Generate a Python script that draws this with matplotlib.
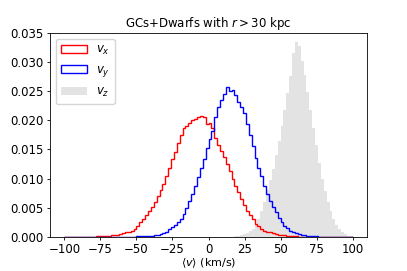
import numpy as np
import matplotlib
matplotlib.use('Agg')
import matplotlib.pyplot as plt

# 2 km/s bins from -100 to 100
BIN_EDGES = np.arange(-100, 101, 2)
BIN_CENTERS = BIN_EDGES[:-1] + 1

# normalised counts per bin (centres -99 ... 99)
vx_hist = [0] * 10 + [
    0.00005, 0.0001, 0.0001, 0.00015, 0.0002, 0.0002, 0.0003, 0.0003, 0.0004, 0.0005,   # -79 .. -61
    0.0006, 0.0008, 0.0009, 0.0011, 0.0013, 0.0019, 0.0026, 0.0031, 0.0037, 0.0045,     # -59 .. -41
    0.0051, 0.0060, 0.0070, 0.0080, 0.0091, 0.0104, 0.0118, 0.0133, 0.0146, 0.0161,     # -39 .. -21
    0.0175, 0.0187, 0.0190, 0.0195, 0.0200, 0.0203, 0.0205, 0.0208, 0.0206, 0.0194,     # -19 .. -1
    0.0196, 0.0186, 0.0170, 0.0158, 0.0147, 0.0137, 0.0125, 0.0113, 0.0099, 0.0088,     # 1 .. 19
    0.0077, 0.0065, 0.0055, 0.0045, 0.0037, 0.0030, 0.0023, 0.0018, 0.0013, 0.0011,     # 21 .. 39
    0.0009, 0.0008, 0.0006, 0.0005, 0.0004, 0.0003, 0.0003, 0.0002, 0.0002, 0.0001,     # 41 .. 59
    0.0001, 0.00005, 0.00005] + [0] * 17

vy_hist = [0] * 20 + [
    0.00002, 0.00003, 0.00005, 0.00005, 0.00008, 0.0001, 0.0001, 0.0001, 0.00015, 0.0002,  # -59 .. -41
    0.0002, 0.0003, 0.0003, 0.0005, 0.0007, 0.0009, 0.0013, 0.0017, 0.0020, 0.0025,        # -39 .. -21
    0.0031, 0.0039, 0.0049, 0.0061, 0.0074, 0.0088, 0.0103, 0.0119, 0.0134, 0.0153,        # -19 .. -1
    0.0168, 0.0182, 0.0205, 0.0222, 0.0234, 0.0245, 0.0257, 0.0250, 0.0252, 0.0243,        # 1 .. 19
    0.0231, 0.0222, 0.0212, 0.0193, 0.0174, 0.0156, 0.0136, 0.0118, 0.0104, 0.0088,        # 21 .. 39
    0.0074, 0.0062, 0.0051, 0.0042, 0.0032, 0.0025, 0.0019, 0.0015, 0.0011, 0.0009,        # 41 .. 59
    0.0007, 0.0005, 0.0004, 0.0003, 0.0002, 0.00015, 0.0001, 0.0001, 0.00005, 0.00003] + [0] * 10

vz_hist = [0] * 58 + [
    0.00005, 0.0001, 0.0002, 0.0003, 0.0005, 0.0007, 0.0010, 0.0014, 0.0020, 0.0031,    # 17 .. 35
    0.0045, 0.0060, 0.0080, 0.0098, 0.0117, 0.0140, 0.0165, 0.0190, 0.0218, 0.0246,     # 37 .. 55
    0.0276, 0.0315, 0.0334, 0.0328, 0.0302, 0.0277, 0.0248, 0.0218, 0.0186, 0.0158,     # 57 .. 75
    0.0126, 0.0100, 0.0078, 0.0060, 0.0044, 0.0030, 0.0020, 0.0013, 0.0009, 0.0005,     # 77 .. 95
    0.0002, 0.0001]


fig = plt.figure(figsize=(4.07, 2.71), dpi=100)
ax = fig.add_axes([0.1229, 0.1255, 0.7788, 0.7538])

ax.hist(BIN_CENTERS, bins=BIN_EDGES, weights=vx_hist, histtype='step',
        color='red', lw=1.0, label=r'$v_x$')
ax.hist(BIN_CENTERS, bins=BIN_EDGES, weights=vy_hist, histtype='step',
        color='blue', lw=1.0, label=r'$v_y$')
ax.hist(BIN_CENTERS, bins=BIN_EDGES, weights=vz_hist, histtype='stepfilled',
        color='#e3e3e3', label=r'$v_z$')

ax.set_xlim(-110, 110)
ax.set_ylim(0, 0.035)
ax.set_xticks([-100, -75, -50, -25, 0, 25, 50, 75, 100])
ax.tick_params(labelsize=8.5, length=2.5, width=0.6, pad=2)
for s in ax.spines.values():
    s.set_linewidth(0.6)
ax.set_xlabel(r'$\langle v\rangle$ (km/s)', fontsize=8, labelpad=0)
ax.set_title(r'GCs+Dwarfs with $r > 30$ kpc', fontsize=8.5, pad=4)
ax.legend(loc='upper left', fontsize=8.5, handlelength=2.2, borderpad=0.4)

fig.savefig('out.png', dpi=100)
